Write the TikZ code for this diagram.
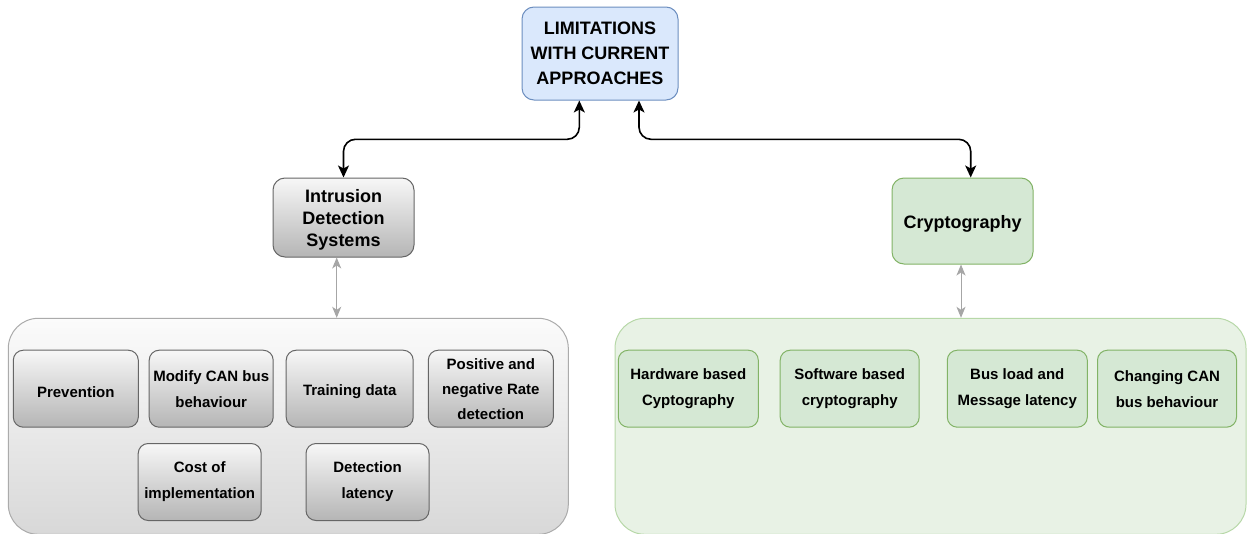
\documentclass[tikz,border=0pt]{standalone}
\usepackage{fontspec}
\setmainfont{Liberation Sans}
\usetikzlibrary{arrows.meta}
\definecolor{bluefill}{HTML}{DAE8FC}
\definecolor{bluedraw}{HTML}{6C8EBF}
\definecolor{greenfill}{HTML}{D5E8D4}
\definecolor{greendraw}{HTML}{82B366}
\definecolor{greenpanel}{HTML}{E8F2E5}
\definecolor{greenpaneldraw}{HTML}{B7D8A8}
\definecolor{graydraw}{HTML}{666666}
\definecolor{graytop}{HTML}{F7F7F7}
\definecolor{graybot}{HTML}{B5B5B5}
\definecolor{panelgraytop}{HTML}{FBFBFB}
\definecolor{panelgraybot}{HTML}{D8D8D8}
\definecolor{panelgraydraw}{HTML}{ABABAB}
\definecolor{linkgray}{HTML}{A6A6A6}
% shift the ink of a label down without changing its box
\newcommand{\lowered}[2]{\raisebox{-#1}[\height][\depth]{#2}}
\tikzset{
  box/.style={rounded corners=10pt, line width=1pt, inner sep=0pt, align=center,
    font=\bfseries\fontsize{15}{26}\selectfont},
  graybox/.style={box, draw=graydraw, top color=graytop, bottom color=graybot},
  greenbox/.style={box, draw=greendraw, fill=greenfill},
  header/.style={rounded corners=12pt, line width=1pt, inner sep=0pt, align=center,
    font=\bfseries\fontsize{18}{22}\selectfont},
  panel/.style={rounded corners=30pt, line width=1pt, inner sep=0pt},
  mainlink/.style={line width=1.6pt, black, rounded corners=12pt,
    {Stealth[length=12pt,width=11pt,inset=3pt]}-{Stealth[length=12pt,width=11pt,inset=3pt]}},
  sublink/.style={line width=1pt, linkgray,
    {Stealth[length=11pt,width=9pt,inset=3pt]}-{Stealth[length=11pt,width=9pt,inset=3pt]}},
}
\begin{document}
\begin{tikzpicture}[x=1pt,y=-1pt]
\useasboundingbox (0,0) rectangle (1248,533);

% bottom panels
\node[panel, draw=panelgraydraw, top color=panelgraytop, bottom color=panelgraybot,
  minimum width=560pt, minimum height=216pt] (idspanel) at (288.3,426.3) {};
\node[panel, draw=greenpaneldraw, fill=greenpanel,
  minimum width=631pt, minimum height=216pt] (cryptopanel) at (930.5,426.3) {};

% top-level nodes
\node[header, draw=bluedraw, fill=bluefill, minimum width=156pt, minimum height=93pt,
  font=\bfseries\fontsize{18}{25}\selectfont] (limits) at (600,53.5)
  {LIMITATIONS\\WITH CURRENT\\APPROACHES};
\node[header, draw=graydraw, top color=graytop, bottom color=graybot,
  minimum width=141pt, minimum height=79pt] (ids) at (343.5,217.5)
  {\lowered{2.5pt}{\begin{tabular}{@{}c@{}}Intrusion\\[-0.3pt]Detection\\[-0.3pt]Systems\end{tabular}}};
\node[header, draw=greendraw, fill=greenfill, minimum width=141pt, minimum height=86pt]
  (crypto) at (962.5,221) {\lowered{3pt}{Cryptography}};

% intrusion detection limitations
\node[graybox, minimum width=125pt, minimum height=77pt] (prev) at (75.8,388.7) {\lowered{3pt}{Prevention}};
\node[graybox, minimum width=124pt, minimum height=77pt] (modify) at (211.2,388.7) {Modify CAN bus\\behaviour};
\node[graybox, minimum width=127pt, minimum height=77pt] (train) at (349.7,388.7) {\lowered{3pt}{Training data}};
\node[graybox, minimum width=125pt, minimum height=77pt, font=\bfseries\fontsize{15}{25}\selectfont]
  (rate) at (490.8,388.7) {Positive and\\negative Rate\\detection};
\node[graybox, minimum width=123pt, minimum height=77pt] (cost) at (199.7,482) {Cost of\\implementation};
\node[graybox, minimum width=123pt, minimum height=77pt] (latency) at (367.5,482) {Detection\\latency};

% cryptography limitations
\node[greenbox, minimum width=140pt, minimum height=77pt] (hw) at (688.3,388.7) {Hardware based\\Cyptography};
\node[greenbox, minimum width=139pt, minimum height=77pt] (sw) at (849.7,388.7) {Software based\\cryptography};
\node[greenbox, minimum width=140pt, minimum height=77pt] (busload) at (1017.3,388.7) {Bus load and\\Message latency};
\node[greenbox, minimum width=139pt, minimum height=77pt] (changing) at (1167,388.7) {Changing CAN\\bus behaviour};

% connectors
\draw[mainlink] (ids.north) -- (343.5,139.3) -- (579.3,139.3) -- (limits.south -| 579.3,0);
\draw[mainlink] (limits.south -| 639,0) -- (639,139.3) -- (970.7,139.3) -- (crypto.north -| 970.7,0);
\draw[sublink] (ids.south -| 336.7,0) -- (idspanel.north -| 336.7,0);
\draw[sublink] (crypto.south -| 961,0) -- (cryptopanel.north -| 961,0);
\end{tikzpicture}
\end{document}
